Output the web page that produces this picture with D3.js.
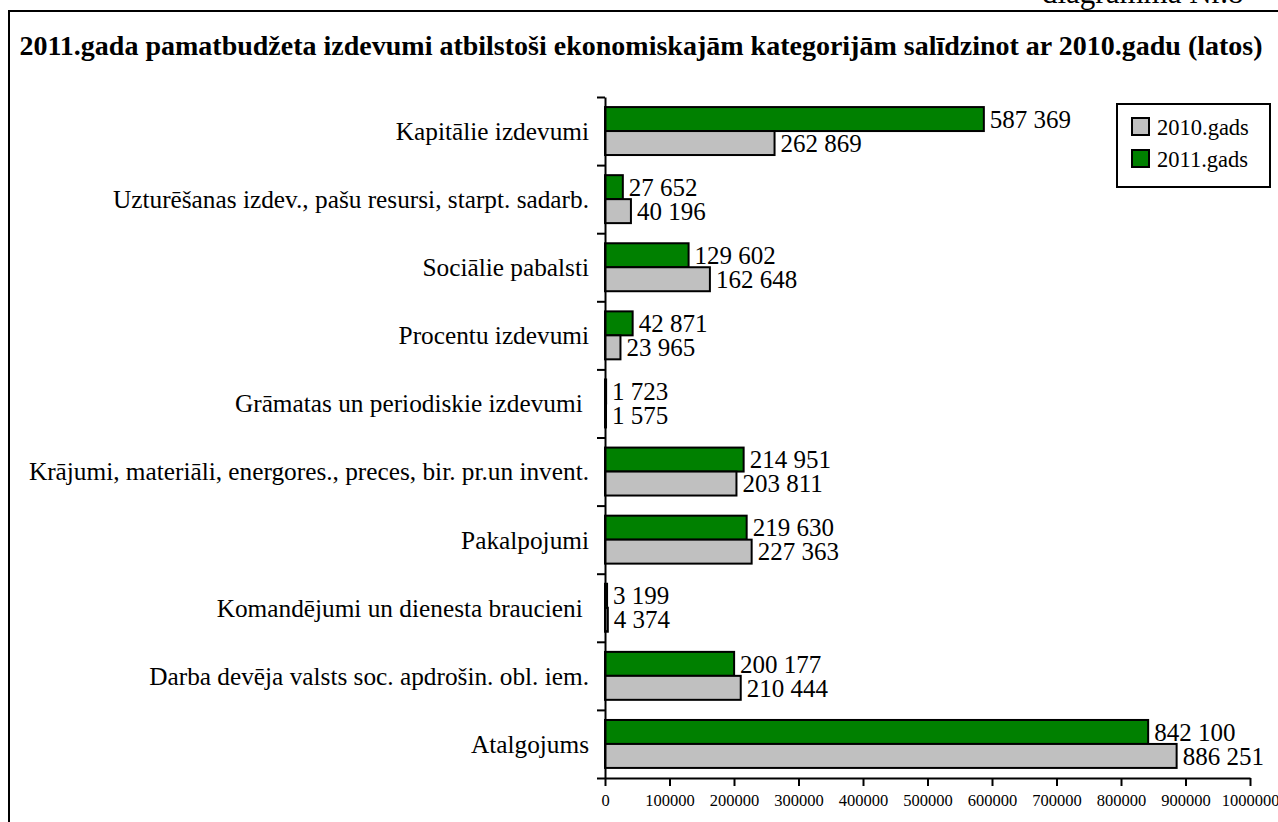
<!DOCTYPE html>
<html>
<head>
<meta charset="utf-8">
<script src="https://cdnjs.cloudflare.com/ajax/libs/d3/7.8.5/d3.min.js"></script>
<style>
body{margin:0;background:#fff;}
</style>
</head>
<body>
<div id="chart"></div>
<script>
var width = 1278,
    height = 822;
var serif = "'Liberation Serif', 'Times New Roman', 'DejaVu Serif', serif";

// kategorijas no augšas uz leju
var categories = [
  "Kapitālie izdevumi",
  "Uzturēšanas izdev., pašu resursi, starpt. sadarb.",
  "Sociālie pabalsti",
  "Procentu izdevumi",
  "Grāmatas un periodiskie izdevumi ",
  "Krājumi, materiāli, energores., preces, bir. pr.un invent.",
  "Pakalpojumi",
  "Komandējumi un dienesta braucieni ",
  "Darba devēja valsts soc. apdrošin. obl. iem.",
  "Atalgojums"
];
var values2011 = [587369, 27652, 129602, 42871, 1723, 214951, 219630, 3199, 200177, 842100];
var values2010 = [262869, 40196, 162648, 23965, 1575, 203811, 227363, 4374, 210444, 886251];
var seriesNames = ["2011.gads", "2010.gads"];
var legendNames = ["2010.gads", "2011.gads"];
var xTicks = [0, 100000, 200000, 300000, 400000, 500000, 600000, 700000, 800000, 900000, 1000000];

var colors = {"2010.gads": "#c0c0c0", "2011.gads": "#008000"};

var rows = categories.map(function(c, i){
  return {cat: c, vals: [{s: "2011.gads", v: values2011[i]}, {s: "2010.gads", v: values2010[i]}]};
});

var svg = d3.select("#chart").append("svg")
    .attr("width", width)
    .attr("height", height)
    .style("font-family", serif);

// rāmis
svg.append("rect")
  .attr("x", 9).attr("y", 11)
  .attr("width", 1400).attr("height", 900)
  .attr("fill", "none").attr("stroke", "#000").attr("stroke-width", 2);

svg.append("text")
  .attr("x", 1042).attr("y", 3)
  .style("font-family", serif)
  .attr("font-size", 31)
  .text("diagramma Nr.8");

svg.append("text")
  .attr("x", 641).attr("y", 55)
  .attr("text-anchor", "middle")
  .style("font-family", serif)
  .attr("font-size", 28)
  .attr("font-weight", "bold")
  .text("2011.gada pamatbudžeta izdevumi atbilstoši ekonomiskajām kategorijām salīdzinot ar 2010.gadu (latos)");

var x = d3.scaleLinear().domain([0, 1000000]).range([605, 1250]);
var y = d3.scaleBand().domain(categories).range([97, 778]);
var yIdx = d3.scaleLinear().domain([0, categories.length]).range([97, 778]);
var ySub = d3.scaleBand().domain(seriesNames).range([0, y.bandwidth()]).paddingOuter(0.42);

var fmt = function(v){ return d3.format(",")(v).replace(/,/g, " "); };

// stabiņi
var g = svg.append("g").selectAll("g")
  .data(rows)
  .enter().append("g")
    .attr("transform", function(d){ return "translate(0," + y(d.cat) + ")"; });

g.selectAll("rect")
  .data(function(d){ return d.vals; })
  .enter().append("rect")
    .attr("x", x(0))
    .attr("y", function(d){ return ySub(d.s); })
    .attr("width", function(d){ return x(d.v) - x(0); })
    .attr("height", ySub.bandwidth())
    .attr("fill", function(d){ return colors[d.s]; })
    .attr("stroke", "#000")
    .attr("stroke-width", 2);

g.selectAll("text.val")
  .data(function(d){ return d.vals; })
  .enter().append("text")
    .attr("class", "val")
    .attr("x", function(d){ return x(d.v) + 6; })
    .attr("y", function(d){ return ySub(d.s) + ySub.bandwidth() / 2; })
    .attr("dy", "0.35em")
    .style("font-family", serif)
    .attr("font-size", 25)
    .text(function(d){ return fmt(d.v); });

// kategoriju nosaukumi
svg.append("g").selectAll("text")
  .data(categories)
  .enter().append("text")
    .attr("x", 589)
    .attr("y", function(d){ return y(d) + y.bandwidth() / 2; })
    .attr("dy", "0.35em")
    .attr("text-anchor", "end")
    .style("font-family", serif)
    .attr("font-size", 25.3)
    .style("white-space", "pre")
    .text(function(d){ return d; });

// asis
var yAxis = svg.append("g")
  .attr("transform", "translate(" + x(0) + ",0)")
  .call(d3.axisLeft(yIdx).tickValues(d3.range(categories.length + 1)).tickFormat("").tickSize(8).tickSizeOuter(0));

var xAxis = svg.append("g")
  .attr("transform", "translate(0,778)")
  .call(d3.axisBottom(x).tickValues(xTicks).tickFormat(d3.format("d")).tickSize(8).tickSizeOuter(0));

xAxis.attr("font-family", null);
xAxis.selectAll("text")
  .style("font-family", serif)
  .attr("font-size", 16.5)
  .attr("fill", "#000")
  .attr("dy", "1.05em");

[xAxis, yAxis].forEach(function(a){
  a.selectAll("path, line").attr("stroke", "#000").attr("stroke-width", 2);
});

// leģenda
var leg = svg.append("g");
leg.append("rect")
  .attr("x", 1117).attr("y", 104)
  .attr("width", 153).attr("height", 83)
  .attr("fill", "#fff").attr("stroke", "#000").attr("stroke-width", 2);

var li = leg.selectAll("g")
  .data(legendNames)
  .enter().append("g")
    .attr("transform", function(d, i){ return "translate(1132," + (118 + i * 32) + ")"; });

li.append("rect")
  .attr("width", 17).attr("height", 17)
  .attr("fill", function(d){ return colors[d]; })
  .attr("stroke", "#000").attr("stroke-width", 2);

li.append("text")
  .attr("x", 25).attr("y", 9)
  .attr("dy", "0.35em")
  .style("font-family", serif)
  .attr("font-size", 22.5)
  .text(function(d){ return d; });
</script>
</body>
</html>
